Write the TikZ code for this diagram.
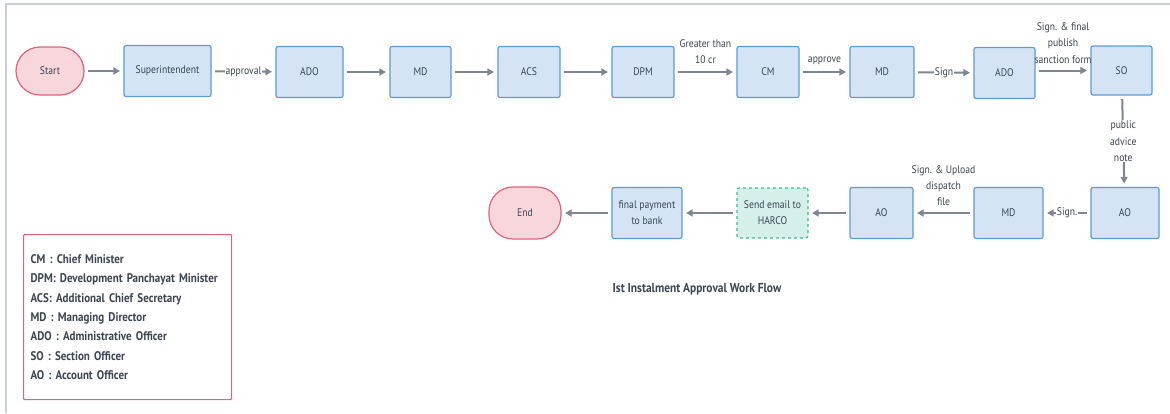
\documentclass[tikz,border=0pt]{standalone}
\usepackage{fontspec}
\setmainfont{PT Sans}[FakeStretch=0.88]
\usetikzlibrary{arrows.meta}
\definecolor{boxfill}{HTML}{D4E4F5}
\definecolor{boxline}{HTML}{5B9BDA}
\definecolor{endfill}{HTML}{F7D6DC}
\definecolor{endline}{HTML}{DD6479}
\definecolor{mailfill}{HTML}{D5F0EA}
\definecolor{mailline}{HTML}{3DBB8E}
\definecolor{arrowgray}{HTML}{7D8691}
\definecolor{txt}{HTML}{3C4551}
\definecolor{framegray}{HTML}{C9D0D6}
\tikzset{>={Triangle[length=6.5pt,width=7pt]}}

\begin{document}
\begin{tikzpicture}[x=1pt,y=-1pt,
  every node/.style={text=txt, font=\fontsize{11}{16.2}\selectfont, align=center},
  stepbox/.style={draw=boxline, fill=boxfill, line width=1.2pt, rounded corners=2pt,
                  minimum width=63pt, minimum height=51pt},
  termbox/.style={draw=endline, fill=endfill, line width=1.2pt, rounded corners=24pt,
                  minimum width=70pt, minimum height=50pt},
  mailbox/.style={stepbox, draw=mailline, fill=mailfill, dashed},
  flow/.style={->, draw=arrowgray, line width=2pt, shorten >=3.5pt, shorten <=3.5pt},
  onflow/.style={fill=white, inner sep=1pt},
  ]
  \useasboundingbox (0,0) rectangle (1170,413);
  % frame
  \draw[framegray, line width=1.5pt] (6,413) -- (6,4) -- (1170,4);
  \def\rowa{72}  % upper row
  \def\rowb{213} % lower row
  % upper row
  \node[termbox, minimum width=68pt, minimum height=48pt] (start) at (50,71) {Start};
  \node[stepbox, minimum width=87pt] (sup)  at (167.5,71) {Superintendent};
  \node[stepbox, minimum width=67pt] (ado)  at (309.5,\rowa) {ADO};
  \node[stepbox, minimum width=61pt] (md)   at (420.5,\rowa) {MD};
  \node[stepbox, minimum width=62pt] (acs)  at (529,\rowa) {ACS};
  \node[stepbox, minimum width=62pt] (dpm)  at (643,\rowa) {DPM};
  \node[stepbox, minimum width=62pt] (cm)   at (768,\rowa) {CM};
  \node[stepbox, minimum width=64pt] (mdb)  at (882,\rowa) {MD};
  \node[stepbox, minimum width=61pt] (adob) at (1004.5,73) {ADO};
  \node[stepbox, minimum width=61pt, minimum height=49pt] (so) at (1121.5,70.5) {SO};
  % lower row
  \node[termbox, minimum width=72pt, minimum height=52pt] (end) at (525,\rowb) {End};
  \node[stepbox, minimum width=70pt] (pay)  at (647,\rowb) {final payment\\to bank};
  \node[mailbox, minimum width=71pt, minimum height=50pt] (mail) at (772.5,\rowb) {Send email to\\HARCO};
  \node[stepbox, minimum width=63pt] (ao)   at (881.5,\rowb) {AO};
  \node[stepbox, minimum width=69pt] (mdc)  at (1008.5,\rowb) {MD};
  \node[stepbox, minimum width=68pt] (aob)  at (1125,\rowb) {AO};
  % connectors
  \draw[flow] (start) -- (sup);
  \draw[flow] (sup) -- node[onflow] {approval} (ado);
  \draw[flow] (ado) -- (md);
  \draw[flow] (md) -- (acs);
  \draw[flow] (acs) -- (dpm);
  \draw[flow] (dpm) -- node[above=4pt] {Greater than\\10 cr} (cm);
  \draw[flow] (cm) -- node[above=3pt] {approve} (mdb);
  \draw[flow] (mdb) -- node[onflow] {Sign} (adob);
  \draw[flow] (adob.east |- so) -- node[above=3pt] {Sign. \& final\\publish\\sanction form} (so.west);
  \draw[flow] (so) -- node[onflow] {public\\advice\\note} (aob);
  \draw[flow] (aob) -- node[onflow] {Sign.} (mdc);
  \draw[flow] (mdc) -- node[above=3pt] {Sign. \& Upload\\dispatch\\file} (ao);
  \draw[flow] (ao) -- (mail);
  \draw[flow] (mail) -- (pay);
  \draw[flow] (pay) -- (end);
  % title
  \node[font=\fontsize{13}{15}\selectfont\bfseries] (title) at (697,289) {Ist Instalment Approval Work Flow};
  % legend
  \node[draw=endline, fill=white, line width=1.2pt, rounded corners=1pt, anchor=north west,
        minimum width=208pt, minimum height=165pt, text width=194pt, align=left,
        font=\fontsize{12.5}{19.4}\selectfont\bfseries] (legend) at (23,234)
    {CM : Chief Minister\\
     DPM: Development Panchayat Minister\\
     ACS: Additional Chief Secretary\\
     MD : Managing Director\\
     ADO : Administrative Officer\\
     SO : Section Officer\\
     AO : Account Officer};
\end{tikzpicture}
\end{document}
